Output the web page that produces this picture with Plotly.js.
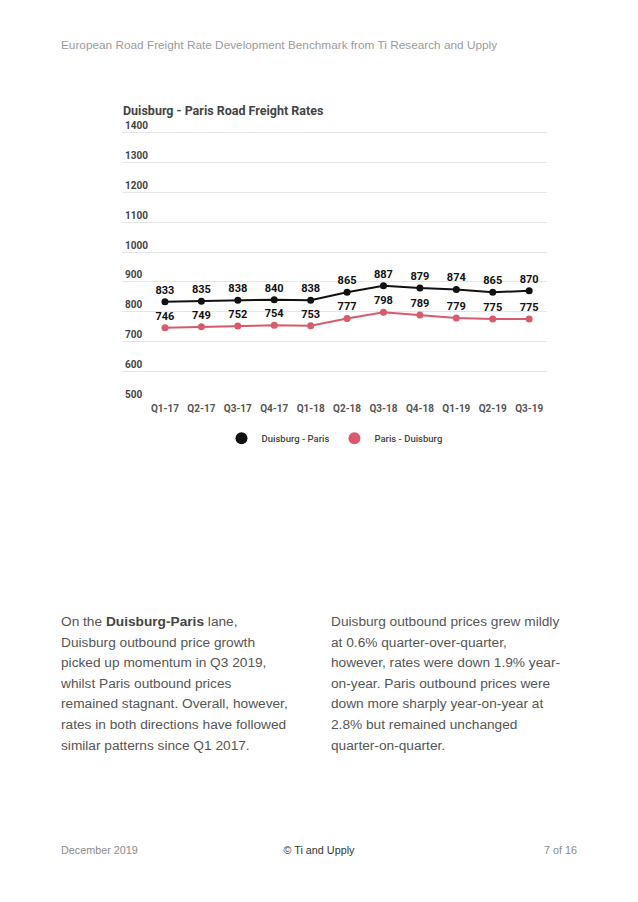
<!DOCTYPE html>
<html>
<head>
<meta charset="utf-8">
<script src="https://cdn.plot.ly/plotly-3.0.1.min.js"></script>
<style>
  html, body { margin:0; padding:0; background:#fff; }
  #page { position:relative; width:638px; height:902px; overflow:hidden; }
  #chart { position:absolute; left:0; top:0; width:638px; height:902px; }
  .txt { position:absolute; font-family:"Liberation Sans", Arial, sans-serif; white-space:nowrap; }
  #header { left:61px; top:38px; font-size:11.8px; color:#9a9a9a; }
  .col { top:612px; font-size:13.7px; line-height:20.6px; color:#555; }
  #colL { left:61px; }
  #colR { left:331px; }
  .foot { top:844px; font-size:10.8px; color:#8a8a8a; }
</style>
</head>
<body>
<div id="page">
  <div id="chart"></div>
  <div id="header" class="txt">European Road Freight Rate Development Benchmark from Ti Research and Upply</div>
  <div id="colL" class="txt col">On the <b style="color:#444">Duisburg-Paris</b> lane,<br>Duisburg outbound price growth<br>picked up momentum in Q3 2019,<br>whilst Paris outbound prices<br>remained stagnant. Overall, however,<br>rates in both directions have followed<br>similar patterns since Q1 2017.</div>
  <div id="colR" class="txt col">Duisburg outbound prices grew mildly<br>at 0.6% quarter-over-quarter,<br>however, rates were down 1.9% year-<br>on-year. Paris outbound prices were<br>down more sharply year-on-year at<br>2.8% but remained unchanged<br>quarter-on-quarter.</div>
  <div class="txt foot" style="left:61px;">December 2019</div>
  <div class="txt foot" style="left:0; width:638px; text-align:center; color:#333;">© Ti and Upply</div>
  <div class="txt foot" style="right:61px;">7 of 16</div>
</div>
<script>
const quarters = ["Q1-17","Q2-17","Q3-17","Q4-17","Q1-18","Q2-18","Q3-18","Q4-18","Q1-19","Q2-19","Q3-19"];
const duisburgParis = [833, 835, 838, 840, 838, 865, 887, 879, 874, 865, 870];
const parisDuisburg = [746, 749, 752, 754, 753, 777, 798, 789, 779, 775, 775];
const seriesNames = ["Duisburg - Paris", "Paris - Duisburg"];
const yTicks = [500, 600, 700, 800, 900, 1000, 1100, 1200, 1300, 1400];

const colBlack = "#111111";
const colRed = "#d85a6d";
const fontFam = "Roboto, 'Open Sans', sans-serif";

function lineTrace(y, name, color) {
  return {
    x: quarters, y: y, name: name, type: "scatter",
    mode: "lines+markers+text",
    text: y.map(String), textposition: "top center",
    textfont: { family: fontFam, size: 11, color: "#111", weight: 700 },
    line: { color: color, width: 2 },
    marker: { color: color, size: 7 },
    showlegend: false, hoverinfo: "x+y"
  };
}
function legendTrace(name, color) {
  return {
    x: [null], y: [null], name: name, type: "scatter", mode: "markers",
    marker: { color: color, size: 12 }, showlegend: true
  };
}

const data = [
  lineTrace(duisburgParis, seriesNames[0], colBlack),
  lineTrace(parisDuisburg, seriesNames[1], colRed),
  legendTrace(seriesNames[0], colBlack),
  legendTrace(seriesNames[1], colRed)
];

const layout = {
  width: 638, height: 902,
  margin: { l: 122, r: 91, t: 115, b: 501, pad: 0 },
  paper_bgcolor: "#fff", plot_bgcolor: "#fff",
  font: { family: fontFam, color: "#444" },
  title: {
    text: "<b>Duisburg - Paris Road Freight Rates</b>",
    font: { family: fontFam, size: 12.5, color: "#444" },
    x: 123/638, xanchor: "left", xref: "container",
    y: 1 - 111/902, yanchor: "middle", yref: "container"
  },
  xaxis: {
    type: "category", range: [-1.18, 10.49],
    showgrid: false, zeroline: false, showline: false, ticks: "",
    tickfont: { family: fontFam, size: 10, color: "#555", weight: 700 },
    fixedrange: true
  },
  yaxis: {
    range: [500, 1460], tickvals: yTicks,
    ticklabelposition: "inside top",
    tickfont: { family: fontFam, size: 10, color: "#444", weight: 700 },
    showgrid: true, gridcolor: "#e6e6e6", gridwidth: 1,
    zeroline: false, showline: false, ticks: "",
    fixedrange: true
  },
  legend: {
    orientation: "h", x: 0.5, xanchor: "center", y: -0.13, yanchor: "middle",
    font: { family: fontFam, size: 9.5, color: "#444", weight: 500 },
    itemsizing: "trace", itemwidth: 30
  },
  showlegend: true
};

Plotly.newPlot("chart", data, layout, { displayModeBar: false, staticPlot: true });
</script>
</body>
</html>
